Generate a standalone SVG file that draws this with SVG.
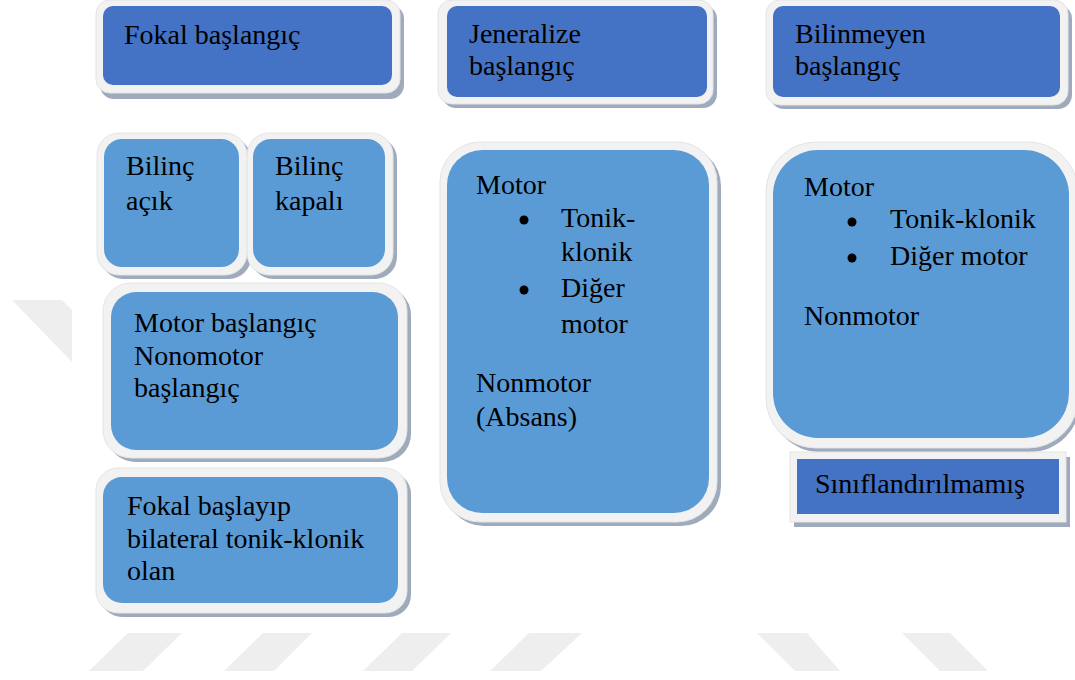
<svg xmlns="http://www.w3.org/2000/svg" width="1075" height="680" viewBox="0 0 1075 680">
<style>
.wm{fill:#eeeeee}
.sh{fill:#8e9bb0;opacity:0.85}
.fr{fill:#f2f2f2;stroke:#e4e4e4;stroke-width:1}
.hd{fill:#4472c4}
.bd{fill:#5b9bd5}
text{font-family:"Liberation Serif","Times New Roman",serif;font-size:28px;fill:#000}
.bl{fill:#000}
</style>
<rect width="1075" height="680" fill="#ffffff"/>
<g id="watermark">
<polygon class="wm" points="12,300 62,300 72,310 72,362"/>
<polygon class="wm" points="128,633 182,633 143,671 89,671"/>
<polygon class="wm" points="263,633 312,633 274,671 224,671"/>
<polygon class="wm" points="402,633 451,633 412,671 363,671"/>
<polygon class="wm" points="529,633 582,633 541,671 490,671"/>
<polygon class="wm" points="757,633 807,633 840,671 795,671"/>
<polygon class="wm" points="902,633 950,633 988,671 940,671"/>
</g>
<g id="connectors"></g>
<g id="fokal">
<rect class="sh" x="100" y="5" width="304" height="94" rx="14"/>
<rect class="fr" x="96" y="0" width="304" height="93" rx="14"/>
<rect class="hd" x="103" y="6" width="289" height="79" rx="10"/>
<text x="124" y="44">Fokal başlangıç</text>
</g>
<g id="jeneralize">
<rect class="sh" x="442" y="5" width="275" height="103" rx="14"/>
<rect class="fr" x="438" y="0" width="275" height="104" rx="14"/>
<rect class="hd" x="447" y="6" width="260" height="91" rx="10"/>
<text x="469" y="43">Jeneralize</text>
<text x="469" y="75">başlangıç</text>
</g>
<g id="bilinmeyen">
<rect class="sh" x="770" y="5" width="302" height="104" rx="14"/>
<rect class="fr" x="766" y="0" width="302" height="105" rx="14"/>
<rect class="hd" x="773" y="6" width="287" height="91" rx="10"/>
<text x="795" y="43">Bilinmeyen</text>
<text x="795" y="75">başlangıç</text>
</g>
<g id="bilinc-acik">
<rect class="sh" x="101" y="137" width="150" height="142" rx="22"/>
<rect class="fr" x="97" y="133" width="150" height="142" rx="22"/>
<rect class="bd" x="104" y="139" width="135" height="128" rx="18"/>
<text x="126" y="175">Bilinç</text>
<text x="126" y="210">açık</text>
</g>
<g id="bilinc-kapali">
<rect class="sh" x="251" y="137" width="146" height="142" rx="22"/>
<rect class="fr" x="247" y="133" width="146" height="142" rx="22"/>
<rect class="bd" x="253" y="139" width="132" height="128" rx="18"/>
<text x="275" y="175">Bilinç</text>
<text x="275" y="210">kapalı</text>
</g>
<g id="motor-baslangic">
<rect class="sh" x="107" y="287" width="304" height="175" rx="28"/>
<rect class="fr" x="103" y="283" width="304" height="175" rx="28"/>
<rect class="bd" x="111" y="292" width="287" height="158" rx="25"/>
<text x="134" y="332">Motor başlangıç</text>
<text x="134" y="365">Nonomotor</text>
<text x="134" y="397">başlangıç</text>
</g>
<g id="fokal-bilateral">
<rect class="sh" x="100" y="472" width="311" height="145" rx="22"/>
<rect class="fr" x="96" y="468" width="311" height="145" rx="22"/>
<rect class="bd" x="103" y="477" width="295" height="126" rx="19"/>
<text x="127" y="515">Fokal başlayıp</text>
<text x="127" y="548">bilateral tonik-klonik</text>
<text x="127" y="580">olan</text>
</g>
<g id="jeneralize-motor">
<rect class="sh" x="444" y="146" width="277" height="380" rx="40"/>
<rect class="fr" x="440" y="142" width="277" height="380" rx="40"/>
<rect class="bd" x="447" y="150" width="262" height="363" rx="35"/>
<text x="476" y="194">Motor</text>
<circle class="bl" cx="524" cy="220" r="4.5"/>
<text x="561" y="227">Tonik-</text>
<text x="561" y="261">klonik</text>
<circle class="bl" cx="524" cy="290" r="4.5"/>
<text x="561" y="297">Diğer</text>
<text x="561" y="333">motor</text>
<text x="476" y="392">Nonmotor</text>
<text x="476" y="426">(Absans)</text>
</g>
<g id="bilinmeyen-motor">
<rect class="sh" x="770" y="146" width="310" height="306" rx="50"/>
<rect class="fr" x="766" y="142" width="312" height="306" rx="50"/>
<rect class="bd" x="773" y="150" width="296" height="288" rx="45"/>
<text x="804" y="196">Motor</text>
<circle class="bl" cx="852" cy="222" r="4.5"/>
<text x="890" y="228">Tonik-klonik</text>
<circle class="bl" cx="852" cy="258" r="4.5"/>
<text x="890" y="265">Diğer motor</text>
<text x="804" y="325">Nonmotor</text>
</g>
<g id="siniflandirilmamis">
<rect class="sh" x="794" y="457" width="276" height="70"/>
<rect class="fr" x="790" y="452" width="276" height="70"/>
<rect class="hd" x="797" y="459" width="262" height="55"/>
<text x="815" y="493">Sınıflandırılmamış</text>
</g>
</svg>
